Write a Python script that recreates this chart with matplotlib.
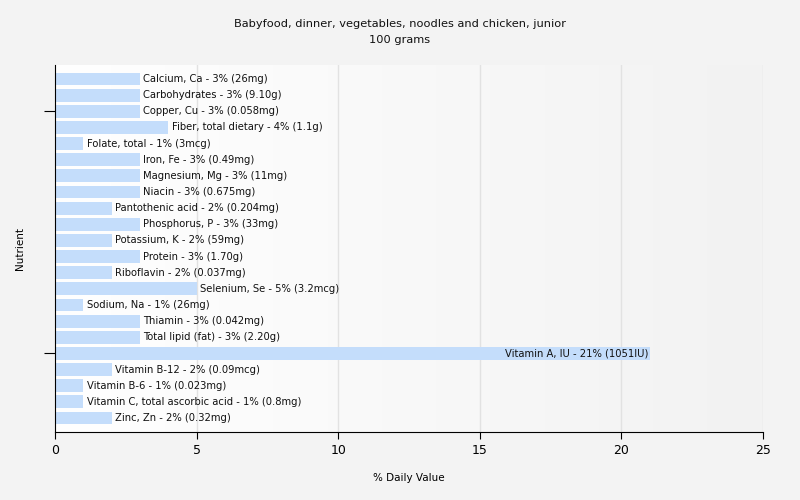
import numpy as np
import matplotlib.pyplot as plt
from matplotlib.colors import LinearSegmentedColormap

# Nutrients and % daily value
nutrients = ['Calcium, Ca', 'Carbohydrates', 'Copper, Cu', 'Fiber, total dietary',
             'Folate, total', 'Iron, Fe', 'Magnesium, Mg', 'Niacin', 'Pantothenic acid',
             'Phosphorus, P', 'Potassium, K', 'Protein', 'Riboflavin', 'Selenium, Se',
             'Sodium, Na', 'Thiamin', 'Total lipid (fat)', 'Vitamin A, IU', 'Vitamin B-12',
             'Vitamin B-6', 'Vitamin C, total ascorbic acid', 'Zinc, Zn']
values = [3, 3, 3, 4, 1, 3, 3, 3, 2, 3, 2, 3, 2, 5, 1, 3, 3, 21, 2, 1, 1, 2]
amounts = ['26mg', '9.10g', '0.058mg', '1.1g', '3mcg', '0.49mg', '11mg', '0.675mg',
           '0.204mg', '33mg', '59mg', '1.70g', '0.037mg', '3.2mcg', '26mg', '0.042mg',
           '2.20g', '1051IU', '0.09mcg', '0.023mg', '0.8mg', '0.32mg']

fig = plt.figure(figsize=(8, 5), dpi=100, facecolor='#f3f3f3')
ax = fig.add_axes([0.06875, 0.136, 0.885, 0.734])

y = np.arange(len(nutrients))

# gradient background
cmap = LinearSegmentedColormap.from_list('bg', ['#ffffff', '#f2f2f2'])
ax.imshow(np.linspace(0, 1, 256).reshape(1, -1), cmap=cmap, aspect='auto',
          extent=[0, 25, 21.87, -0.87], zorder=0)

for gx in [5, 10, 15, 20, 25]:
    ax.axvline(gx, color='#e2e2e2', linewidth=1, zorder=1)

ax.barh(y, values, height=0.8, color='#c4ddfb', zorder=2)

for i, (name, v, amt) in enumerate(zip(nutrients, values, amounts)):
    label = f'{name} - {v}% ({amt})'
    if v > 15:
        ax.text(v - 0.05, i, label, ha='right', va='center', fontsize=7.2, color='#111111', zorder=3)
    else:
        ax.text(v + 0.12, i, label, ha='left', va='center', fontsize=7.2, color='#111111', zorder=3)

ax.set_xlim(0, 25)
ax.set_ylim(21.87, -0.87)
ax.set_xticks([0, 5, 10, 15, 20, 25])
ax.set_yticks([2, 17])
ax.set_yticklabels([])
ax.tick_params(axis='x', labelsize=9, length=5)
ax.tick_params(axis='y', length=8)

for s in ['top', 'right']:
    ax.spines[s].set_visible(False)

ax.set_xlabel('% Daily Value', fontsize=7.5, labelpad=12)
ax.set_ylabel('Nutrient', fontsize=7.5, labelpad=10)
fig.suptitle('Babyfood, dinner, vegetables, noodles and chicken, junior\n100 grams',
             fontsize=8.2, y=0.962, color='#111111', linespacing=1.75)

plt.savefig('out.png', dpi=100, facecolor=fig.get_facecolor())
